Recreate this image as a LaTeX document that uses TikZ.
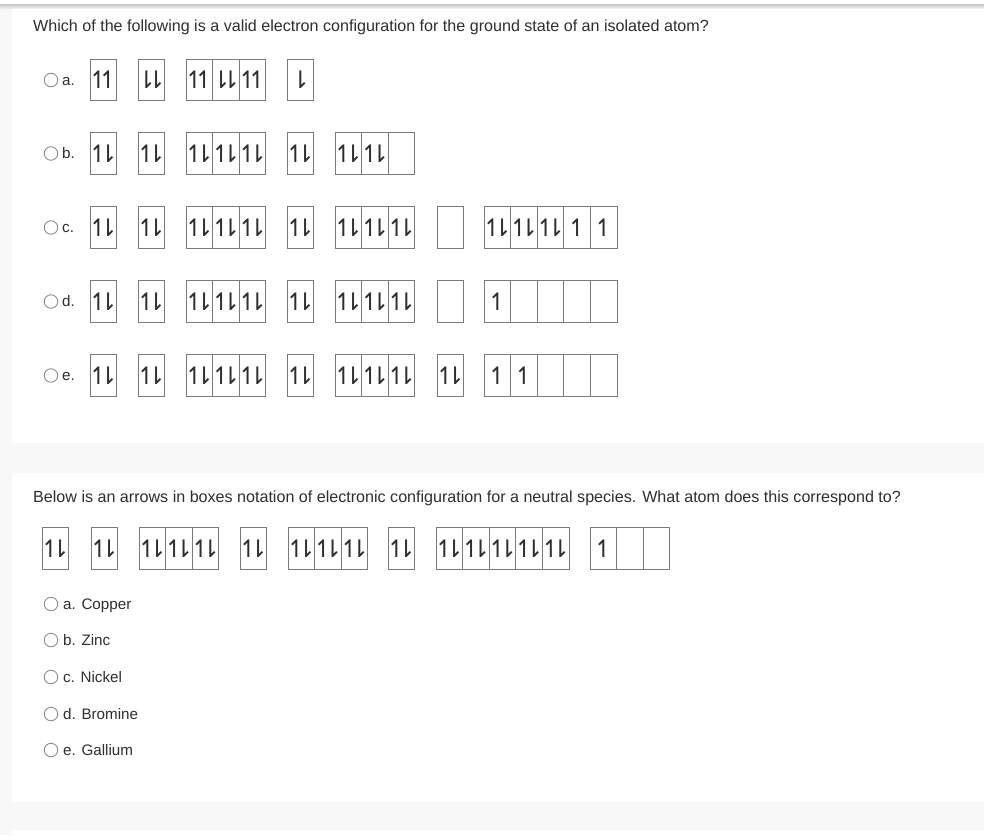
\documentclass[tikz,border=0pt]{standalone}
\usepackage{fontspec}
\setmainfont{Liberation Sans}
\newfontfamily\arrfont{DejaVu Sans}
\definecolor{bggray}{HTML}{F8F8F8}
\definecolor{boxgray}{HTML}{7A7A7A}
\definecolor{txt}{HTML}{2E2E2E}
\definecolor{radiogray}{HTML}{8C8C8C}
\newcommand\harpsz{\fontsize{24}{24}\selectfont}
\newcommand\hU{\makebox[0pt][c]{\arrfont\harpsz ↿}}
\newcommand\hD{\makebox[0pt][c]{\arrfont\harpsz ⇂}}
\newcommand\hUD{\makebox[0pt][c]{\arrfont\harpsz ↿\kern-10.5pt⇂}}
\newcommand\hUU{\makebox[0pt][c]{\arrfont\harpsz ↿\kern-10.5pt↿}}
\newcommand\hDD{\makebox[0pt][c]{\arrfont\harpsz ⇂\kern-10.5pt⇂}}
\newcommand\grp[4]{%
  \foreach \c [count=\i from 0] in {#4} {
    \node[cell] (#1-\i) at ({#2+13.3+26.6*\i},#3) {\c};
  }}
\begin{document}
\begin{tikzpicture}[x=1pt,y=-1pt,
  cell/.style={draw=boxgray,line width=1pt,minimum width=26.6pt,minimum height=41.5pt,inner sep=0pt,text=txt},
  qtext/.style={font=\fontsize{16.1}{19}\selectfont,text=txt,inner sep=0pt,anchor=base west},
  otext/.style={font=\fontsize{15.2}{18}\selectfont,text=txt,inner sep=0pt,anchor=base west},
  radio/.style={circle,draw=radiogray,line width=0.9pt,minimum size=13.5pt,inner sep=0pt}]
\useasboundingbox (0,0) rectangle (984,835);
\fill[white] (0,0) rectangle (984,835);
\fill[bggray] (0,8) rectangle (984,835);
\shade[top color=black!20,bottom color=black!4] (0,4.5) rectangle (984,9);
\fill[white] (12,9) rectangle (984,443);
\fill[white] (12,473) rectangle (984,802);
\fill[white] (12,830) rectangle (984,835);
% Question 1
\node[qtext] (q1) at (33,31) {Which of the following is a valid electron configuration for the ground state of an isolated atom?};
% option labels
\foreach \l/\y [count=\k] in {a/80,b/153.5,c/227.5,d/301.5,e/375.5} {
  \node[radio] (r\k) at (51,\y) {};
  \node[otext] (l\k) at (62,\y+5.2) {\l.};
}
% row a
\grp{a1}{90}{80}{\hUU}
\grp{a2}{138}{80}{\hDD}
\grp{a3}{186}{80}{\hUU,\hDD,\hUU}
\grp{a4}{287}{80}{\hD}
% row b
\grp{b1}{90}{153.5}{\hUD}
\grp{b2}{138}{153.5}{\hUD}
\grp{b3}{186}{153.5}{\hUD,\hUD,\hUD}
\grp{b4}{287}{153.5}{\hUD}
\grp{b5}{335}{153.5}{\hUD,\hUD,{}}
% row c
\grp{c1}{90}{227.5}{\hUD}
\grp{c2}{138}{227.5}{\hUD}
\grp{c3}{186}{227.5}{\hUD,\hUD,\hUD}
\grp{c4}{287}{227.5}{\hUD}
\grp{c5}{335}{227.5}{\hUD,\hUD,\hUD}
\grp{c6}{437}{227.5}{{}}
\grp{c7}{484}{227.5}{\hUD,\hUD,\hUD,\hU,\hU}
% row d
\grp{d1}{90}{301.5}{\hUD}
\grp{d2}{138}{301.5}{\hUD}
\grp{d3}{186}{301.5}{\hUD,\hUD,\hUD}
\grp{d4}{287}{301.5}{\hUD}
\grp{d5}{335}{301.5}{\hUD,\hUD,\hUD}
\grp{d6}{437}{301.5}{{}}
\grp{d7}{484}{301.5}{\hU,{},{},{},{}}
% row e
\grp{e1}{90}{375.5}{\hUD}
\grp{e2}{138}{375.5}{\hUD}
\grp{e3}{186}{375.5}{\hUD,\hUD,\hUD}
\grp{e4}{287}{375.5}{\hUD}
\grp{e5}{335}{375.5}{\hUD,\hUD,\hUD}
\grp{e6}{437}{375.5}{\hUD}
\grp{e7}{484}{375.5}{\hU,\hU,{},{},{}}
% Question 2
\node[qtext] (q2) at (33,502) {Below is an arrows in boxes notation of electronic configuration for a neutral species. What atom does this correspond to?};
\grp{f1}{42}{548.5}{\hUD}
\grp{f2}{91}{548.5}{\hUD}
\grp{f3}{139}{548.5}{\hUD,\hUD,\hUD}
\grp{f4}{240}{548.5}{\hUD}
\grp{f5}{288}{548.5}{\hUD,\hUD,\hUD}
\grp{f6}{388}{548.5}{\hUD}
\grp{f7}{436}{548.5}{\hUD,\hUD,\hUD,\hUD,\hUD}
\grp{f8}{590}{548.5}{\hU,{},{}}
\foreach \t/\y [count=\k] in {a. Copper/604,b. Zinc/640,c. Nickel/677,d. Bromine/714,e. Gallium/750} {
  \node[radio] (s\k) at (51,\y) {};
  \node[otext] (t\k) at (63,\y+5.4) {\t};
}
\end{tikzpicture}
\end{document}
